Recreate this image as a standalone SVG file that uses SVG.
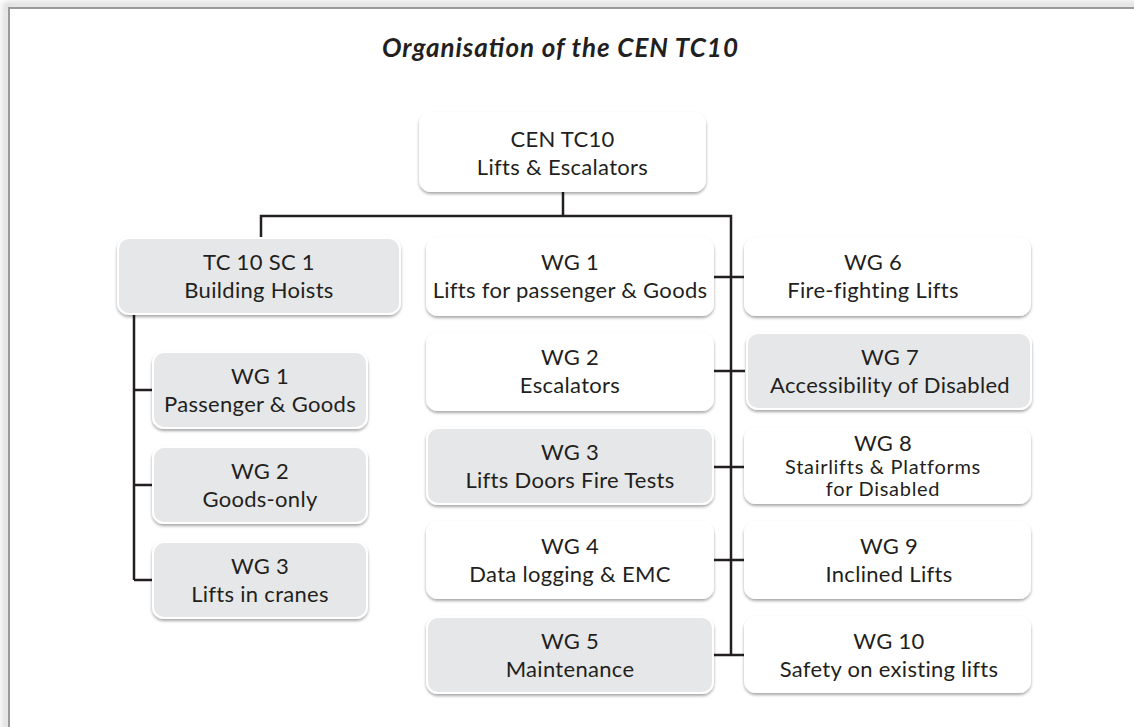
<svg xmlns="http://www.w3.org/2000/svg" width="1134" height="727" viewBox="0 0 1134 727">
<defs>
<filter id="sh" x="-10%" y="-10%" width="120%" height="130%">
<feGaussianBlur in="SourceAlpha" stdDeviation="1.5"/>
<feOffset dx="0" dy="1.5" result="b"/>
<feComponentTransfer><feFuncA type="linear" slope="0.35"/></feComponentTransfer>
<feMerge><feMergeNode/><feMergeNode in="SourceGraphic"/></feMerge>
</filter>
<filter id="fsh" x="-5%" y="-5%" width="110%" height="110%">
<feGaussianBlur stdDeviation="3"/>
</filter>
</defs>
<style>
.box{stroke:#ffffff;stroke-width:2;filter:url(#sh)}
.w{fill:#ffffff}
.g{fill:#e6e7e8}
.t{font-family:Lato,"Open Sans","Liberation Sans",sans-serif;font-size:22px;letter-spacing:0.3px;fill:#231f20;text-anchor:middle}
.s{font-size:20px;letter-spacing:0.7px}
.title{font-family:Lato,"Liberation Sans",sans-serif;font-size:26px;font-weight:bold;font-style:italic;fill:#231f20;text-anchor:middle}
.c{stroke:#231f20;stroke-width:2.5;fill:none}
</style>
<rect x="0" y="0" width="1134" height="727" fill="#ffffff"/>
<rect x="6" y="5" width="1300" height="900" fill="none" stroke="#d8d8d8" stroke-width="6" filter="url(#fsh)"/>
<rect x="9" y="8" width="1300" height="900" fill="#ffffff" stroke="#9a9a9a" stroke-width="2"/>
<text class="title" x="560" y="57" textLength="356" lengthAdjust="spacing">Organisation of the CEN TC10</text>

<g id="connectors">
<path class="c" d="M563 191 V216 M261 237 V216 H731 V655"/>
<path class="c" d="M713 277 H745 M713 371 H745 M713 467 H745 M713 560 H745 M713 655 H745"/>
<path class="c" d="M134 314 V580 M134 390 H153 M134 485 H153 M134 580 H153"/>
</g>

<g id="root"><rect class="box w" x="420" y="113" width="285" height="78" rx="11"/>
<text class="t" x="562.5" y="147">CEN TC10</text><text class="t" x="562.5" y="175">Lifts &amp; Escalators</text></g>

<g id="sc1"><rect class="box g" x="118" y="238" width="282" height="76" rx="11"/>
<text class="t" x="259" y="270">TC 10 SC 1</text><text class="t" x="259" y="298">Building Hoists</text></g>

<g id="sc1-wg1"><rect class="box g" x="153" y="352" width="214" height="76" rx="11"/>
<text class="t" x="260" y="384">WG 1</text><text class="t" x="260" y="412">Passenger &amp; Goods</text></g>
<g id="sc1-wg2"><rect class="box g" x="153" y="447" width="214" height="76" rx="11"/>
<text class="t" x="260" y="479">WG 2</text><text class="t" x="260" y="507">Goods-only</text></g>
<g id="sc1-wg3"><rect class="box g" x="153" y="542" width="214" height="76" rx="11"/>
<text class="t" x="260" y="574">WG 3</text><text class="t" x="260" y="602">Lifts in cranes</text></g>

<g id="wg1"><rect class="box w" x="427" y="238" width="286" height="77" rx="11"/>
<text class="t" x="570" y="270">WG 1</text><text class="t" x="570" y="298">Lifts for passenger &amp; Goods</text></g>
<g id="wg2"><rect class="box w" x="427" y="333" width="286" height="77" rx="11"/>
<text class="t" x="570" y="365">WG 2</text><text class="t" x="570" y="393">Escalators</text></g>
<g id="wg3"><rect class="box g" x="427" y="428" width="286" height="76" rx="11"/>
<text class="t" x="570" y="460">WG 3</text><text class="t" x="570" y="488">Lifts Doors Fire Tests</text></g>
<g id="wg4"><rect class="box w" x="427" y="522" width="286" height="76" rx="11"/>
<text class="t" x="570" y="554">WG 4</text><text class="t" x="570" y="582">Data logging &amp; EMC</text></g>
<g id="wg5"><rect class="box g" x="427" y="617" width="286" height="76" rx="11"/>
<text class="t" x="570" y="649">WG 5</text><text class="t" x="570" y="677">Maintenance</text></g>

<g id="wg6"><rect class="box w" x="745" y="238" width="285" height="77" rx="11"/>
<text class="t" x="873" y="270">WG 6</text><text class="t" x="873" y="298">Fire-fighting Lifts</text></g>
<g id="wg7"><rect class="box g" x="747" y="333" width="284" height="76" rx="11"/>
<text class="t" x="890" y="365">WG 7</text><text class="t" x="890" y="393">Accessibility of Disabled</text></g>
<g id="wg8"><rect class="box w" x="745" y="428" width="285" height="75" rx="11"/>
<text class="t" x="883" y="451">WG 8</text><text class="t s" x="883" y="474">Stairlifts &amp; Platforms</text><text class="t s" x="883" y="496">for Disabled</text></g>
<g id="wg9"><rect class="box w" x="745" y="522" width="285" height="76" rx="11"/>
<text class="t" x="889" y="554">WG 9</text><text class="t" x="889" y="582">Inclined Lifts</text></g>
<g id="wg10"><rect class="box w" x="745" y="617" width="285" height="75" rx="11"/>
<text class="t" x="889" y="649">WG 10</text><text class="t" x="889" y="677">Safety on existing lifts</text></g>
</svg>
